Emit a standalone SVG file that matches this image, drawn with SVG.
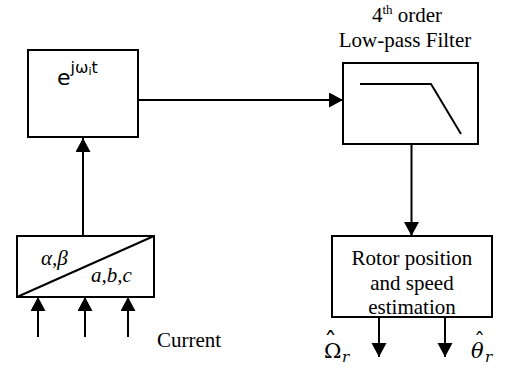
<svg xmlns="http://www.w3.org/2000/svg" width="508" height="369" viewBox="0 0 508 369">
<style>
.box{fill:#fff;stroke:#000;stroke-width:2}
.ln{fill:none;stroke:#000;stroke-width:2}
</style>
<defs>
<marker id="ah" markerUnits="userSpaceOnUse" markerWidth="16" markerHeight="16" refX="14" refY="7.5" orient="auto">
<path d="M0,0 L14,7.5 L0,15 z" fill="#000"/>
</marker>
</defs>
<g id="connectors">
<line class="ln" x1="138" y1="100" x2="343" y2="100" marker-end="url(#ah)"/>
<line class="ln" x1="83" y1="236" x2="83" y2="138" marker-end="url(#ah)"/>
<line class="ln" x1="411.5" y1="144" x2="411.5" y2="236" marker-end="url(#ah)"/>
<line class="ln" x1="38" y1="337" x2="38" y2="297" marker-end="url(#ah)"/>
<line class="ln" x1="85" y1="337" x2="85" y2="297" marker-end="url(#ah)"/>
<line class="ln" x1="128" y1="337" x2="128" y2="297" marker-end="url(#ah)"/>
<line class="ln" x1="379" y1="317" x2="379" y2="357" marker-end="url(#ah)"/>
<line class="ln" x1="445" y1="317" x2="445" y2="357" marker-end="url(#ah)"/>
</g>
<g id="exp">
<rect class="box" x="28" y="50" width="110" height="87"/>
<text font-family="DejaVu Sans, sans-serif" x="57" y="85" font-size="22" fill="#000">e<tspan font-size="16" dy="-12">jω</tspan><tspan font-size="11" dy="2">i</tspan><tspan font-size="16" dy="-2">t</tspan></text>
</g>
<g id="filter" font-family="'Liberation Serif', 'Times New Roman', serif" font-size="21" fill="#000">
<text x="407" y="22" text-anchor="middle">4<tspan font-size="13" dy="-8">th</tspan><tspan dy="8"> order</tspan></text>
<text x="405" y="47" text-anchor="middle">Low-pass Filter</text>
<rect class="box" x="343" y="63" width="135" height="81"/>
<polyline class="ln" points="360,84 431,84 461,134"/>
</g>
<g id="converter" font-family="'Liberation Serif', 'Times New Roman', serif" font-size="21" font-style="italic" fill="#000">
<rect class="box" x="17" y="236" width="137" height="61"/>
<line class="ln" x1="17" y1="297" x2="154" y2="236"/>
<text x="41" y="265">α,β</text>
<text x="91" y="282">a,b,c</text>
</g>
<g id="current" font-family="'Liberation Serif', 'Times New Roman', serif" font-size="21" fill="#000">
<text x="157" y="347">Current</text>
</g>
<g id="estimator" font-family="'Liberation Serif', 'Times New Roman', serif" font-size="21" fill="#000">
<rect class="box" x="332" y="236" width="160" height="81"/>
<text x="412" y="265" text-anchor="middle">Rotor position</text>
<text x="412" y="290" text-anchor="middle">and speed</text>
<text x="412" y="314" text-anchor="middle">estimation</text>
</g>
<g id="outputs" font-family="'DejaVu Serif', serif" fill="#000">
<text x="324" y="358" font-size="21">Ω<tspan x="324" y="351" font-size="26">ˆ</tspan><tspan x="342" y="362" font-style="italic" font-size="15">r</tspan></text>
<text x="471" y="358" font-size="21" font-style="italic">θ<tspan x="474" y="349" font-size="22" font-style="normal">ˆ</tspan><tspan x="485" y="362" font-size="15">r</tspan></text>
</g>
</svg>
